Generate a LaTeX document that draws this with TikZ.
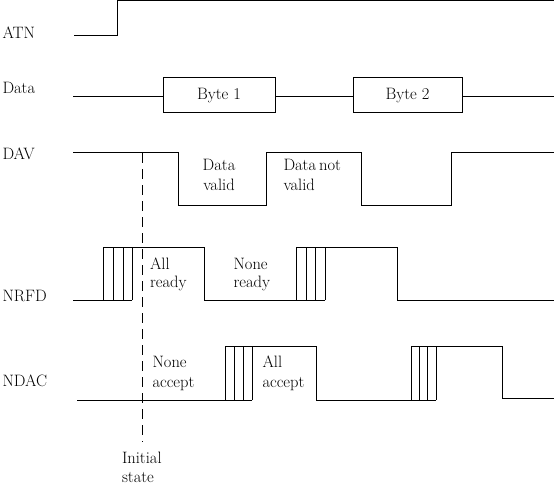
\documentclass[tikz,border=0pt]{standalone}
\begin{document}
\begin{tikzpicture}[x=1pt,y=-1pt,line width=1pt,
  txt/.style={anchor=base west,inner sep=0pt,font=\fontsize{16.5}{19}\selectfont},
  ctxt/.style={anchor=base,inner sep=0pt,font=\fontsize{16.5}{19}\selectfont},
  bytebox/.style={draw,line width=1pt,minimum height=35pt,inner sep=0pt,font=\fontsize{16.5}{19}\selectfont},
  initdash/.style={line width=1pt,dash pattern=on 10pt off 6pt}]
\useasboundingbox (0,0) rectangle (554,484);
% signal names
\node[txt] (atn) at (2,39) {ATN};
\node[txt] (data) at (2,94) {Data};
\node[txt] (dav) at (2,159) {DAV};
\node[txt] (nrfd) at (2,301) {NRFD};
\node[txt] (ndac) at (2,386) {NDAC};
% ATN
\draw (74,36) -- (117,36) -- (117,1) -- (554,1);
% Data
\node[bytebox,minimum width=112pt] (b1) at (219,95.5) {Byte 1};
\node[bytebox,minimum width=109pt] (b2) at (407.5,95.5) {Byte 2};
\coordinate (d0) at (73,97);
\coordinate (d1) at (554,97);
\draw (d0) -- (d0 -| b1.west);
\draw (b1.east |- d0) -- (b2.west |- d0);
\draw (b2.east |- d0) -- (d1);
% DAV
\draw (73,152) -- (178,152) -- (178,205) -- (266,205) -- (266,152) -- (361,152)
  -- (361,205) -- (451,205) -- (451,152) -- (554,152);
\node[ctxt] (dv1) at (219,171) {Data};
\node[ctxt] (dv2) at (219,190.5) {valid};
\node[txt] (dn1) at (283,171) {Data\kern-2pt\ not};
\node[txt] (dn2) at (283,190.5) {valid};
% NRFD
\draw (73,300) -- (132,300);
\draw (103,300) -- (103,247) -- (204,247) -- (204,300) -- (325,300);
\draw (296,300) -- (296,247) -- (397,247) -- (397,300) -- (554,300);
\foreach \x in {113,123,132,306,315,325} \draw (\x,300) -- (\x,247);
\node[txt] (ar1) at (149.5,269) {All};
\node[txt] (ar2) at (149.5,287) {ready};
\node[txt] (nr1) at (233,269) {None};
\node[txt] (nr2) at (233,287) {ready};
% NDAC
\draw (77,400) -- (252,400);
\draw (225,400) -- (225,346) -- (316,346) -- (316,400) -- (436,400);
\draw (411,400) -- (411,346) -- (502,346) -- (502,398) -- (554,398);
\foreach \x in {234,243,252,419,427,436} \draw (\x,400) -- (\x,346);
\node[txt] (na1) at (152,367.5) {None};
\node[txt] (na2) at (152,387) {accept};
\node[txt] (aa1) at (262,367.5) {All};
\node[txt] (aa2) at (262,387) {accept};
% initial state
\draw[initdash] (142,153) -- (142,442);
\node[txt] (is1) at (121.5,463.5) {Initial};
\node[txt] (is2) at (121.5,482) {state};
\end{tikzpicture}
\end{document}
